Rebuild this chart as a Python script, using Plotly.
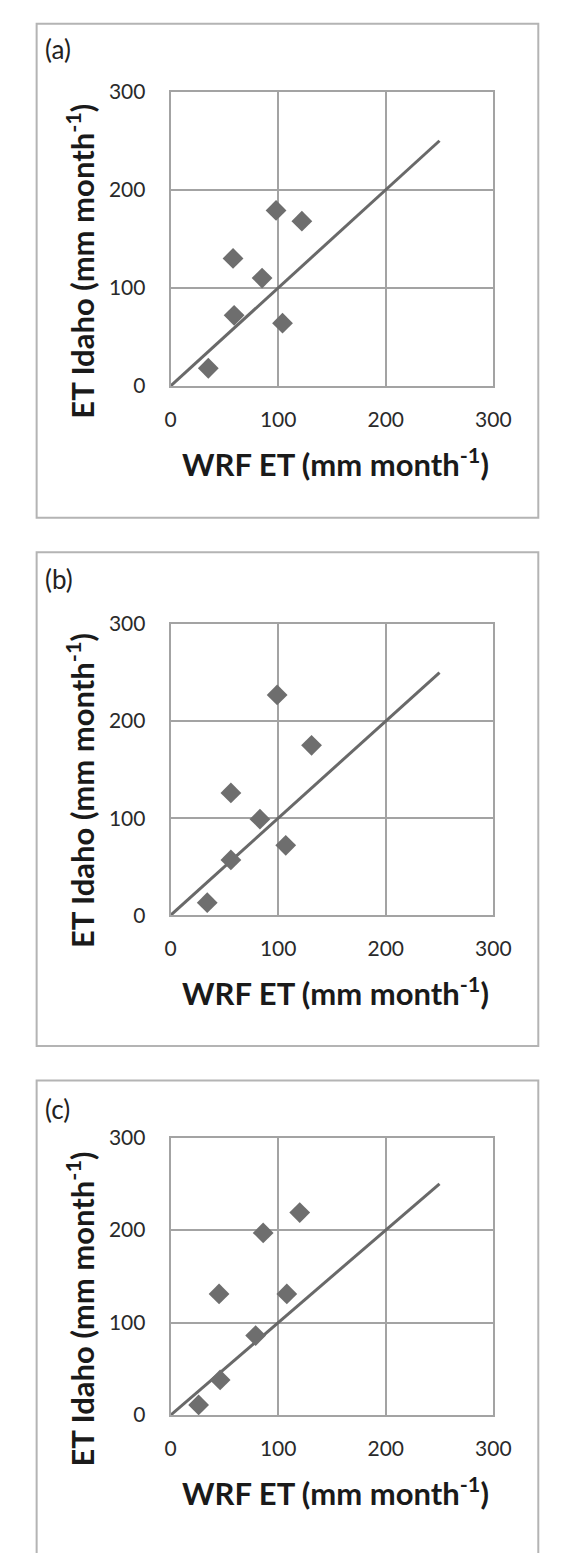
import plotly.graph_objects as go

W, H = 563, 1553

# ---- data ----
panel_labels = ["(a)", "(b)", "(c)"]
wrf_a = [35, 59, 58, 85, 98, 104, 122]
idaho_a = [18, 72, 130, 110, 179, 64, 168]
wrf_b = [34, 56, 56, 83, 99, 107, 131]
idaho_b = [13, 57, 126, 99, 227, 72, 175]
wrf_c = [26, 46, 45, 79, 86, 108, 120]
idaho_c = [11, 38, 131, 86, 197, 131, 219]
one_to_one = [0, 250]
tick_vals = [0, 100, 200, 300]
tick_text = ["0", "100", "200", "300"]
x_title = "WRF ET (mm month<sup>-1</sup>)"
y_title = "ET Idaho (mm month<sup>-1</sup>)"

series = [(wrf_a, idaho_a), (wrf_b, idaho_b), (wrf_c, idaho_c)]

# ---- layout geometry (pixels) ----
plot_x0, plot_x1 = 172, 509
plots_y = [(79, 378), (620, 916), (1142, 1424)]
boxes = [(32, 10, 556, 512), (32, 547, 556, 1049), (32, 1084, 556, 1590)]
label_y = [36, 574, 1113]
xtitle_y = [456, 994, 1502]
ytitle_y = [251, 789, 1316]

GRID = "#a3a3a3"
MARK = "#6e6e6e"
FONT = "Lato"

def px(x):
    return x / W

def py(y):
    return 1 - y / H

fig = go.Figure()
annotations = []
shapes = []

for i, ((xs, ys), (yt, yb)) in enumerate(zip(series, plots_y)):
    n = "" if i == 0 else str(i + 1)
    xa, ya = "x" + n, "y" + n
    fig.add_trace(go.Scatter(x=one_to_one, y=one_to_one, mode="lines",
                             line=dict(color="#696969", width=3),
                             xaxis=xa, yaxis=ya, showlegend=False, hoverinfo="skip"))
    fig.add_trace(go.Scatter(x=xs, y=ys, mode="markers",
                             marker=dict(symbol="diamond", size=16, color=MARK),
                             xaxis=xa, yaxis=ya, showlegend=False))
    axis_common = dict(range=[0, 300], tickvals=tick_vals, ticktext=tick_text,
                       showgrid=True, gridcolor=GRID, gridwidth=2,
                       showline=True, linecolor=GRID, linewidth=2, mirror=True,
                       zeroline=False, ticks="", fixedrange=True,
                       tickfont=dict(family=FONT, size=21, color="#2a2a2a"))
    fig.update_layout(**{
        "xaxis" + n: dict(domain=[px(plot_x0), px(plot_x1)], anchor=ya,
                          ticklabelstandoff=14, **axis_common),
        "yaxis" + n: dict(domain=[py(yb), py(yt)], anchor=xa,
                          ticklabelstandoff=19, **axis_common),
    })
    bx0, by0, bx1, by1 = boxes[i]
    shapes.append(dict(type="rect", xref="paper", yref="paper",
                       x0=px(bx0), x1=px(bx1), y0=py(by1), y1=py(by0),
                       line=dict(color="#b4b4b4", width=2), layer="below"))
    annotations.append(dict(text=panel_labels[i], xref="paper", yref="paper",
                            x=px(39), y=py(label_y[i]), xanchor="left", yanchor="middle",
                            showarrow=False, font=dict(family=FONT, size=26, color="#222222")))
    annotations.append(dict(text="<b>" + x_title + "</b>", xref="paper", yref="paper",
                            x=px(344), y=py(xtitle_y[i]), xanchor="center", yanchor="middle",
                            showarrow=False, font=dict(family=FONT, size=31, color="#1a1a1a")))
    annotations.append(dict(text="<b>" + y_title + "</b>", xref="paper", yref="paper",
                            x=px(78), y=py(ytitle_y[i]), xanchor="center", yanchor="middle",
                            textangle=-90,
                            showarrow=False, font=dict(family=FONT, size=31, color="#1a1a1a")))

fig.update_layout(width=W, height=H, margin=dict(l=0, r=0, t=0, b=0),
                  paper_bgcolor="white", plot_bgcolor="white",
                  annotations=annotations, shapes=shapes, showlegend=False)

fig.write_html("out.html", config={"displayModeBar": False},
               post_script="document.body.style.margin='0';document.body.style.overflow='hidden';")
